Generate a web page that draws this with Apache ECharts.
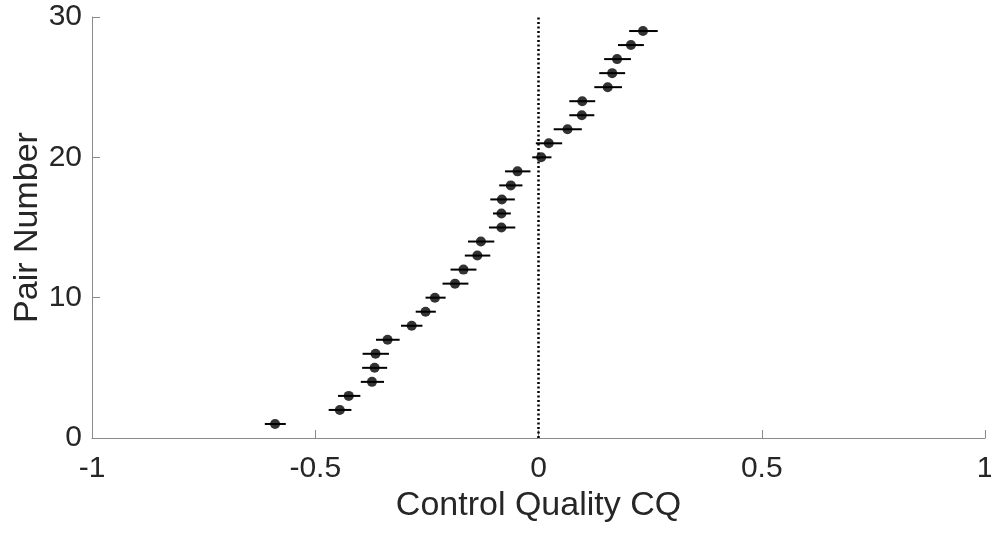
<!DOCTYPE html>
<html>
<head>
<meta charset="utf-8">
<script src="https://cdn.jsdelivr.net/npm/echarts@6/dist/echarts.min.js"></script>
<style>
  html, body { margin: 0; padding: 0; background: #fff; }
  #chart { width: 991px; height: 533px; }
</style>
</head>
<body>
<div id="chart"></div>
<script>
// Pair numbers 1..29 with their control quality estimate and interval bounds
const pairNumbers = [1,2,3,4,5,6,7,8,9,10,11,12,13,14,15,16,17,18,19,20,21,22,23,24,25,26,27,28,29];
const cqValues = [-0.590,-0.445,-0.425,-0.373,-0.367,-0.365,-0.338,-0.284,-0.253,-0.232,
                  -0.187,-0.168,-0.137,-0.129,-0.083,-0.083,-0.082,-0.062,-0.047,0.006,
                  0.023,0.065,0.097,0.098,0.155,0.165,0.176,0.207,0.234];
const cqLower = [-0.613,-0.470,-0.449,-0.398,-0.395,-0.394,-0.364,-0.308,-0.275,-0.253,
                 -0.215,-0.197,-0.165,-0.158,-0.111,-0.102,-0.108,-0.088,-0.075,-0.014,
                 -0.006,0.034,0.069,0.069,0.125,0.136,0.147,0.178,0.203];
const cqUpper = [-0.566,-0.419,-0.399,-0.346,-0.339,-0.335,-0.311,-0.260,-0.230,-0.208,
                 -0.157,-0.139,-0.108,-0.099,-0.052,-0.062,-0.053,-0.036,-0.018,0.029,
                 0.053,0.097,0.125,0.127,0.187,0.194,0.207,0.236,0.267];
const xTicks = [-1, -0.5, 0, 0.5, 1];
const yTicks = [0, 10, 20, 30];
const zeroLine = [[0, 0], [0, 30]];

const textColor = '#262626';
const axisColor = '#8a8a8a';
const fontFamily = '"Liberation Sans", Arial, sans-serif';

const chart = echarts.init(document.getElementById('chart'), null, { renderer: 'canvas' });

const barData = pairNumbers.map((n, i) => [cqLower[i], cqUpper[i], n]);
const pointData = pairNumbers.map((n, i) => [cqValues[i], n]);

chart.setOption({
  animation: false,
  backgroundColor: '#ffffff',
  grid: { left: 92, right: 6, top: 17, bottom: 95, containLabel: false, outerBoundsMode: 'none' },
  xAxis: {
    type: 'value',
    min: xTicks[0], max: xTicks[xTicks.length - 1], interval: 0.5,
    name: 'Control Quality CQ',
    nameLocation: 'middle',
    nameGap: 51,
    nameMoveOverlap: false,
    nameTextStyle: { fontSize: 34, color: textColor, fontFamily: fontFamily },
    axisLine: { show: true, onZero: false, lineStyle: { color: axisColor, width: 1 } },
    axisTick: { show: true, inside: true, length: 8, lineStyle: { color: axisColor } },
    axisLabel: { fontSize: 30, color: textColor, fontFamily: fontFamily, margin: 16,
                 formatter: v => String(v) },
    splitLine: { show: false }
  },
  yAxis: {
    type: 'value',
    min: yTicks[0], max: yTicks[yTicks.length - 1], interval: 10,
    name: 'Pair Number',
    nameLocation: 'middle',
    nameGap: 47,
    nameMoveOverlap: false,
    nameRotate: 90,
    nameTextStyle: { fontSize: 34, color: textColor, fontFamily: fontFamily },
    axisLine: { show: true, onZero: false, lineStyle: { color: axisColor, width: 1 } },
    axisTick: { show: true, inside: true, length: 8, lineStyle: { color: axisColor } },
    axisLabel: { fontSize: 30, color: textColor, fontFamily: fontFamily, margin: 10 },
    splitLine: { show: false }
  },
  series: [
    {
      // dotted reference line at CQ = 0
      type: 'line',
      data: zeroLine,
      symbol: 'none',
      lineStyle: { color: '#000', width: 2.5, type: [2, 2.5] },
      z: 1
    },
    {
      // horizontal interval bars
      type: 'custom',
      data: barData,
      renderItem: (params, api) => {
        const p1 = api.coord([api.value(0), api.value(2)]);
        const p2 = api.coord([api.value(1), api.value(2)]);
        return {
          type: 'line',
          shape: { x1: p1[0], y1: p1[1], x2: p2[0], y2: p2[1] },
          style: { stroke: '#000', lineWidth: 2 }
        };
      },
      z: 2
    },
    {
      type: 'scatter',
      data: pointData,
      symbol: 'circle',
      symbolSize: 10,
      itemStyle: { color: '#000' },
      z: 3
    }
  ]
});
</script>
</body>
</html>
